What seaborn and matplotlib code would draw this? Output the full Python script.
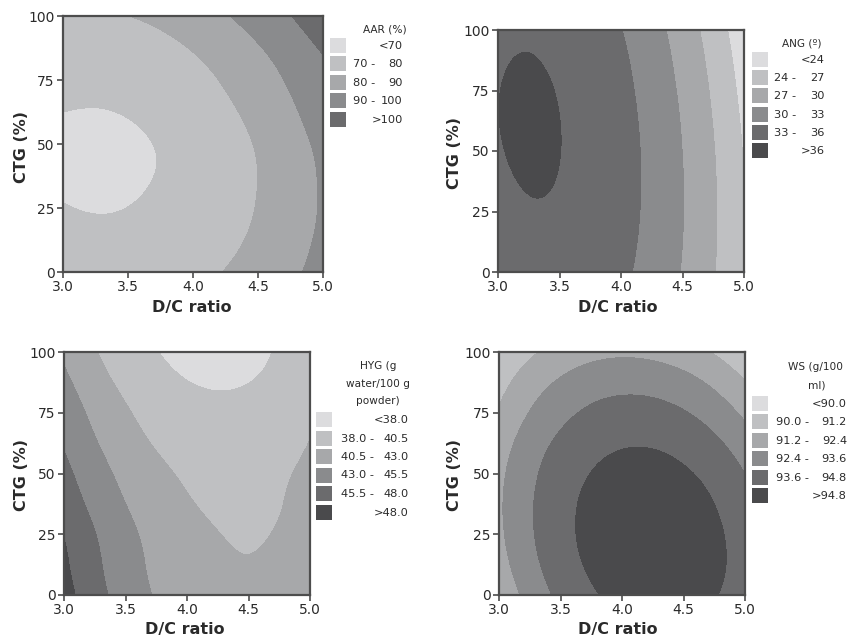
import numpy as np
import matplotlib
matplotlib.use("Agg")
import matplotlib.pyplot as plt
import matplotlib.tri as mtri
from matplotlib.patches import Rectangle
import seaborn as sns

dc_ratio = [3.0, 3.25, 3.5, 3.75, 4.0, 4.25, 4.5, 4.75, 5.0]
ctg = [0, 12.5, 25, 37.5, 50, 62.5, 75, 87.5, 100]

# rows = CTG (0 -> 100), columns = D/C ratio (3.0 -> 5.0)
aar = [
    [75.19, 74.53, 74.72, 75.74, 77.60, 80.30, 83.83, 88.20, 93.41],
    [72.23, 71.62, 71.88, 73.02, 75.03, 77.92, 81.68, 86.32, 91.83],
    [70.26, 69.71, 70.05, 71.29, 73.43, 76.47, 80.42, 85.26, 91.00],
    [68.96, 68.50, 68.96, 70.35, 72.66, 75.90, 80.06, 85.15, 91.16],
    [68.67, 68.31, 68.90, 70.44, 72.92, 76.36, 80.75, 86.09, 92.38],
    [70.01, 69.72, 70.40, 72.06, 74.69, 78.30, 82.88, 88.44, 94.97],
    [72.29, 72.03, 72.76, 74.48, 77.18, 80.88, 85.56, 91.23, 97.30],
    [75.27, 75.04, 75.84, 77.66, 80.51, 84.39, 89.29, 95.00, 101.00],
    [79.25, 79.06, 79.96, 81.96, 85.06, 89.26, 94.57, 99.80, 107.00],
]
ang = [
    [34.61, 35.12, 35.11, 34.58, 33.52, 31.93, 29.82, 27.19, 24.03],
    [35.07, 35.54, 35.48, 34.90, 33.79, 32.16, 30.00, 27.32, 24.11],
    [35.44, 35.86, 35.76, 35.13, 33.97, 32.29, 30.09, 27.36, 24.10],
    [35.72, 36.09, 35.94, 35.26, 34.06, 32.33, 30.08, 27.30, 24.00],
    [35.90, 36.22, 36.02, 35.30, 34.05, 32.27, 29.97, 27.15, 23.80],
    [35.98, 36.26, 36.01, 35.24, 33.94, 32.12, 29.78, 26.90, 23.51],
    [35.97, 36.20, 35.91, 35.09, 33.74, 31.87, 29.48, 26.56, 23.12],
    [35.87, 36.05, 35.71, 34.85, 33.46, 31.54, 29.10, 26.13, 22.64],
    [35.67, 35.81, 35.42, 34.50, 33.06, 31.10, 28.61, 25.60, 22.06],
]
hyg = [
    [48.96, 46.45, 44.40, 42.80, 41.66, 40.98, 40.75, 40.98, 41.65],
    [48.43, 46.01, 44.03, 42.49, 41.40, 40.75, 40.55, 40.79, 41.49],
    [47.92, 45.58, 43.67, 42.20, 41.16, 40.54, 40.36, 40.62, 41.33],
    [47.04, 44.81, 43.01, 41.63, 40.68, 40.16, 40.07, 40.42, 41.22],
    [46.18, 44.04, 42.33, 41.05, 40.19, 39.76, 39.75, 40.18, 41.05],
    [45.29, 43.20, 41.53, 40.30, 39.50, 39.13, 39.19, 39.66, 40.56],
    [44.50, 42.41, 40.77, 39.57, 38.82, 38.51, 38.63, 39.16, 40.09],
    [43.56, 41.51, 39.91, 38.75, 38.05, 37.80, 37.98, 38.58, 39.58],
    [42.59, 40.64, 39.14, 38.07, 37.45, 37.26, 37.52, 38.21, 39.35],
]
ws = [
    [91.45, 92.80, 93.87, 94.64, 95.13, 95.33, 95.25, 94.87, 94.21],
    [91.90, 93.21, 94.23, 94.97, 95.42, 95.58, 95.45, 95.04, 94.34],
    [92.16, 93.43, 94.41, 95.11, 95.51, 95.63, 95.47, 95.01, 94.27],
    [92.23, 93.46, 94.40, 95.06, 95.43, 95.51, 95.30, 94.80, 94.02],
    [92.12, 93.31, 94.21, 94.82, 95.15, 95.19, 94.94, 94.41, 93.59],
    [91.82, 92.97, 93.83, 94.40, 94.69, 94.69, 94.40, 93.83, 92.97],
    [91.33, 92.44, 93.26, 93.80, 94.05, 94.01, 93.68, 93.06, 92.16],
    [90.77, 91.80, 92.54, 93.02, 93.22, 93.14, 92.79, 92.16, 91.26],
    [90.07, 90.98, 91.65, 92.05, 92.20, 92.09, 91.73, 91.11, 90.23],
]

# contour class boundaries and legend texts
aar_levels = [0, 70, 80, 90, 100, 200]
ang_levels = [0, 24, 27, 30, 33, 36, 100]
hyg_levels = [0, 38.0, 40.5, 43.0, 45.5, 48.0, 100]
ws_levels = [0, 90.0, 91.2, 92.4, 93.6, 94.8, 200]

aar_labels = ['<70', '70 - 80', '80 - 90', '90 - 100', '>100']
ang_labels = ['<24', '24 - 27', '27 - 30', '30 - 33', '33 - 36', '>36']
hyg_labels = ['<38.0', '38.0 - 40.5', '40.5 - 43.0', '43.0 - 45.5', '45.5 - 48.0', '>48.0']
ws_labels = ['<90.0', '90.0 - 91.2', '91.2 - 92.4', '92.4 - 93.6', '93.6 - 94.8', '>94.8']

greys = ['#dcdcde', '#bfc0c2', '#a7a8aa', '#8a8b8d', '#6b6b6d', '#4a4a4c']

sns.set_style("ticks")
plt.rcParams['font.family'] = ['DejaVu Sans']

W, H = 861, 637
fig = plt.figure(figsize=(W / 100, H / 100), dpi=100)


def add_axes_px(x0, y0, x1, y1):
    return fig.add_axes([x0 / W, 1 - y1 / H, (x1 - x0) / W, (y1 - y0) / H])


def draw_panel(ax, z, levels, xlab_xy, ylab_xy):
    gx, gy = np.meshgrid(dc_ratio, ctg)
    tri = mtri.Triangulation(gx.ravel(), gy.ravel() / 50.0)
    tri_f, z_f = mtri.UniformTriRefiner(tri).refine_field(np.asarray(z).ravel(), subdiv=4)
    tri_plot = mtri.Triangulation(tri_f.x, tri_f.y * 50.0, tri_f.triangles)
    ax.tricontourf(tri_plot, z_f, levels=levels, colors=greys[:len(levels) - 1])
    ax.set_xlim(3.0, 5.0)
    ax.set_ylim(0, 100)
    ax.set_xticks([3.0, 3.5, 4.0, 4.5, 5.0])
    ax.set_xticklabels(['3.0', '3.5', '4.0', '4.5', '5.0'])
    ax.set_yticks([0, 25, 50, 75, 100])
    ax.tick_params(direction='out', length=4, width=1.2, color='#4d4d4d',
                   labelsize=10, labelcolor='#2a2a2a', pad=2)
    for sp in ax.spines.values():
        sp.set_color('#4d4d4d')
        sp.set_linewidth(1.6)
    ax.set_xlabel('D/C ratio', fontsize=11.5, fontweight='bold', color='#2a2a2a')
    ax.set_ylabel('CTG (%)', fontsize=11.5, fontweight='bold', color='#2a2a2a')
    ax.xaxis.label.set_va('center')
    ax.yaxis.label.set_va('center')
    ax.xaxis.set_label_coords(*xlab_xy)
    ax.yaxis.set_label_coords(*ylab_xy)


def draw_legend(title_lines, labels, patch_x, first_top, step, lab_left, lab_right):
    for text, tx, ty in title_lines:
        fig.text(tx / W, 1 - ty / H, text, ha='center', va='center', fontsize=7.6, color='#2a2a2a')
    for i, lab in enumerate(labels):
        top = first_top + i * step
        fig.add_artist(Rectangle((patch_x / W, 1 - (top + 15) / H), 16 / W, 15 / H,
                                 transform=fig.transFigure, facecolor=greys[i], edgecolor='none'))
        cy = 1 - (top + 8) / H
        if ' - ' in lab:
            lo, hi = lab.split(' - ')
            fig.text(lab_left / W, cy, lo + ' -', ha='left', va='center', fontsize=8.2, color='#2a2a2a')
            fig.text(lab_right / W, cy, hi, ha='right', va='center', fontsize=8.2, color='#2a2a2a')
        else:
            fig.text(lab_right / W, cy, lab, ha='right', va='center', fontsize=8.2, color='#2a2a2a')


ax1 = add_axes_px(63, 16, 323, 272)
draw_panel(ax1, aar, aar_levels, (0.496, -0.137), (-0.158, 0.488))
draw_legend([('AAR (%)', 385, 29)], aar_labels, 330, 38, 18.4, 353, 403)

ax2 = add_axes_px(498, 30, 744, 272)
draw_panel(ax2, ang, ang_levels, (0.488, -0.145), (-0.175, 0.49))
draw_legend([('ANG (º)', 802, 43)], ang_labels, 752, 52, 18.2, 774, 825)

ax3 = add_axes_px(64, 352, 310, 595)
draw_panel(ax3, hyg, hyg_levels, (0.49, -0.144), (-0.171, 0.494))
draw_legend([('HYG (g', 378, 366), ('water/100 g', 378, 384), ('powder)', 378, 401)],
            hyg_labels, 316, 412, 18.5, 341, 409)

ax4 = add_axes_px(499, 352, 745, 595)
draw_panel(ax4, ws, ws_levels, (0.484, -0.144), (-0.179, 0.494))
draw_legend([('WS (g/100', 815, 367), ('ml)', 817, 386)], ws_labels, 752, 396, 18.4, 776, 847)

fig.savefig('out.png', dpi=100)
